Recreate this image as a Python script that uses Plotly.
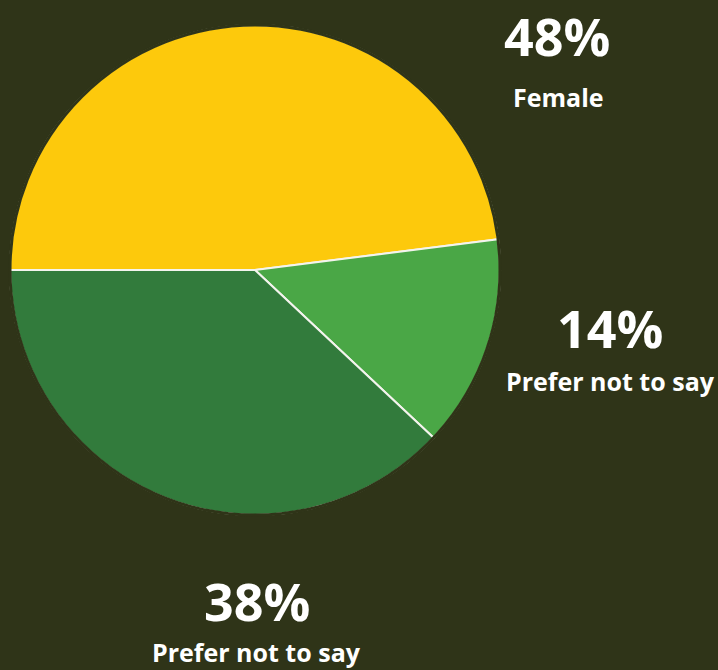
import plotly.graph_objects as go

labels = ["Female", "Prefer not to say (14%)", "Prefer not to say (38%)"]
values = [48, 14, 38]
colors = ["#fdc90c", "#4aa746", "#327b3c"]
pct_text = ["48%", "14%", "38%"]
name_text = ["Female", "Prefer not to say", "Prefer not to say"]

BG = "#2f3418"
W, H = 718, 670

# pie box in pixels (left, right, top, bottom)
PL, PR, PT, PB = 10, 500, 25, 515

fig = go.Figure(go.Pie(
    labels=labels, values=values, sort=False, direction="clockwise",
    rotation=-90, marker=dict(colors=colors, line=dict(color="#f4f4ee", width=2)),
    textinfo="none", hoverinfo="label+percent", showlegend=False,
    domain=dict(x=[PL / W, PR / W], y=[(H - PB) / H, (H - PT) / H]),
))

# cover the outer white outline so only the slice separators stay white
fig.add_shape(type="circle", xref="paper", yref="paper",
              x0=PL / W, x1=PR / W, y0=(H - PB) / H, y1=(H - PT) / H,
              line=dict(color=BG, width=3), layer="above")

# label positions (pixel centers)
pct_pos = [(557, 35), (610, 327), (257, 600)]
name_pos = [(558, 97), (610, 381), (256, 652)]

ann = []
for t, (x, y) in zip(pct_text, pct_pos):
    ann.append(dict(text=t, x=x / W, y=1 - y / H, xref="paper", yref="paper",
                    xanchor="center", yanchor="middle", showarrow=False,
                    font=dict(family="Open Sans", size=52, color="white", weight=700)))
for t, (x, y) in zip(name_text, name_pos):
    ann.append(dict(text=t, x=x / W, y=1 - y / H, xref="paper", yref="paper",
                    xanchor="center", yanchor="middle", showarrow=False,
                    font=dict(family="Open Sans", size=25, color="white", weight=700)))

fig.update_layout(
    width=W, height=H, margin=dict(l=0, r=0, t=0, b=0),
    paper_bgcolor=BG, plot_bgcolor=BG, annotations=ann,
)
fig.write_html("out.html", config={"displayModeBar": False},
               post_script="document.body.style.margin='0';document.body.style.background='%s';" % BG)
